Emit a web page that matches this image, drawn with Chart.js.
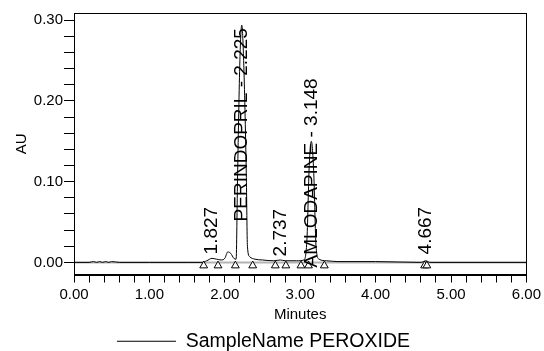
<!DOCTYPE html>
<html>
<head>
<meta charset="utf-8">
<script src="https://cdn.jsdelivr.net/npm/chart.js@4/dist/chart.umd.min.js"></script>
<style>
  html, body { margin: 0; padding: 0; background: #fff; }
  #wrap { width: 544px; height: 351px; }
</style>
</head>
<body>
<div id="wrap"><canvas id="chromChart"></canvas></div>
<script>
// chromatogram trace (minutes, AU)
var retentionTimes = [0.00, 0.20, 0.26, 0.30, 0.34, 0.38, 0.42, 0.46, 0.50, 0.60, 1.00, 1.50, 1.70, 1.76, 1.83, 1.89, 1.95, 2.00, 2.04, 2.08, 2.12, 2.15, 2.17, 2.20, 2.225, 2.25, 2.285, 2.30, 2.33, 2.40, 2.50, 2.65, 2.737, 2.80, 2.95, 3.05, 3.09, 3.12, 3.148, 3.18, 3.21, 3.25, 3.35, 3.50, 4.00, 4.60, 4.667, 4.72, 5.00, 6.00];
var absorbance = [0.000, 0.000, 0.001, 0.000, 0.001, 0.000, 0.001, 0.000, 0.001, 0.000, 0.000, 0.000, 0.000, 0.002, 0.005, 0.004, 0.003, 0.005, 0.013, 0.011, 0.005, 0.004, 0.110, 0.250, 0.294, 0.250, 0.110, 0.020, 0.007, 0.004, 0.003, 0.002, 0.003, 0.002, 0.002, 0.003, 0.030, 0.120, 0.150, 0.110, 0.020, 0.004, 0.002, 0.001, 0.001, 0.000, 0.002, 0.000, 0.000, 0.000];

// integration marks (peak start / end triangles)
var markerTimes = [1.72, 1.91, 2.14, 2.37, 2.67, 2.81, 3.01, 3.11, 3.32, 4.65, 4.68];

// labelled peaks
var peakTimes = [1.827, 2.225, 2.737, 3.148, 4.667];
var peakNames = ['', 'PERINDOPRIL', '', 'AMLODAPINE', ''];

// axis ticks
var xMajorTicks = [0, 1, 2, 3, 4, 5, 6];
var xTickLabels = ['0.00', '1.00', '2.00', '3.00', '4.00', '5.00', '6.00'];
var yMajorTicks = [0, 0.1, 0.2, 0.3];
var yTickLabels = ['0.00', '0.10', '0.20', '0.30'];

var sampleName = 'SampleName PEROXIDE';

var FONT = "'Liberation Sans', Arial, sans-serif";
var MARK_LEVEL = -0.004; // triangles hang just under the baseline

var tracePoints = retentionTimes.map(function (t, i) { return { x: t, y: absorbance[i] }; });
var baselinePoints = [
    { x: retentionTimes[0], y: 0 },
    { x: retentionTimes[retentionTimes.length - 1], y: 0 }
];
var markerPoints = markerTimes.map(function (t) { return { x: t, y: MARK_LEVEL }; });

function minorTicks(majors, parts) {
    var out = [];
    for (var i = 0; i < majors.length; i++) {
        out.push({ value: majors[i] });
        if (i < majors.length - 1) {
            var step = (majors[i + 1] - majors[i]) / parts;
            for (var k = 1; k < parts; k++) out.push({ value: majors[i] + step * k });
        }
    }
    return out;
}

function majorLabel(value, majors, labels) {
    for (var i = 0; i < majors.length; i++) {
        if (Math.abs(value - majors[i]) < 1e-6) return labels[i];
    }
    return '';
}

// frame + vertical peak labels
var peakLabelPlugin = {
    id: 'peakLabels',
    afterDatasetsDraw: function (chart) {
        var ctx = chart.ctx;
        var area = chart.chartArea;
        var xs = chart.scales.x, ys = chart.scales.y;
        ctx.save();
        ctx.strokeStyle = '#000';
        ctx.lineWidth = 1;
        ctx.strokeRect(Math.round(area.left) + 0.5, Math.round(area.top) + 0.5,
            Math.round(area.right - area.left), Math.round(area.bottom - area.top));

        var lift = [8, 41, 6, -5, 8];
        var zeroY = ys.getPixelForValue(0);
        ctx.font = '19px ' + FONT;
        ctx.fillStyle = '#000';
        ctx.textAlign = 'left';
        ctx.textBaseline = 'middle';
        peakTimes.forEach(function (t, i) {
            var txt = (peakNames[i] ? peakNames[i] + ' - ' : '') + t.toFixed(3);
            ctx.save();
            ctx.translate(xs.getPixelForValue(t), zeroY - lift[i]);
            ctx.rotate(-Math.PI / 2);
            ctx.fillText(txt, 0, 0);
            ctx.restore();
        });
        ctx.restore();
    }
};

var ctx = document.getElementById('chromChart').getContext('2d');
var chromChart = new Chart(ctx, {
    type: 'line',
    data: {
        datasets: [
            {
                label: sampleName,
                data: tracePoints,
                borderColor: '#000',
                borderWidth: 1,
                pointRadius: 0,
                cubicInterpolationMode: 'monotone',
                order: 2
            },
            {
                label: 'baseline',
                data: baselinePoints,
                borderColor: '#b4b4b4',
                borderWidth: 2,
                pointRadius: 0,
                order: 3
            },
            {
                label: 'marks',
                data: markerPoints,
                showLine: false,
                pointStyle: 'triangle',
                pointRadius: 4.5,
                pointBackgroundColor: '#fff',
                pointBorderColor: '#000',
                pointBorderWidth: 1,
                order: 1
            }
        ]
    },
    plugins: [peakLabelPlugin],
    options: {
        responsive: true,
        maintainAspectRatio: false,
        animation: false,
        layout: { padding: { top: 13, right: 17, left: 0, bottom: -10 } },
        scales: {
            x: {
                type: 'linear',
                min: 0,
                max: 6,
                afterBuildTicks: function (scale) { scale.ticks = minorTicks(xMajorTicks, 5); },
                afterFit: function (scale) { scale.height = 57; },
                ticks: {
                    autoSkip: false,
                    maxRotation: 0,
                    padding: 3,
                    color: '#000',
                    font: { family: FONT, size: 15 },
                    callback: function (v) { return majorLabel(v, xMajorTicks, xTickLabels); }
                },
                grid: { drawOnChartArea: false, drawTicks: true, tickLength: 8, color: '#000' },
                border: { color: '#000', width: 1 },
                title: {
                    display: true,
                    text: 'Minutes',
                    color: '#000',
                    font: { family: FONT, size: 15 },
                    padding: { top: 0, bottom: 8 }
                }
            },
            y: {
                min: -0.015,
                max: 0.309,
                afterBuildTicks: function (scale) { scale.ticks = minorTicks(yMajorTicks, 5); },
                afterFit: function (scale) { scale.width = 74; },
                ticks: {
                    autoSkip: false,
                    padding: 1,
                    color: '#000',
                    font: { family: FONT, size: 15 },
                    callback: function (v) { return majorLabel(v, yMajorTicks, yTickLabels); }
                },
                grid: { drawOnChartArea: false, drawTicks: true, tickLength: 10, color: '#000' },
                border: { color: '#000', width: 1 },
                title: {
                    display: true,
                    text: 'AU',
                    color: '#000',
                    font: { family: FONT, size: 15 },
                    padding: { top: 13, bottom: 0 }
                }
            }
        },
        plugins: {
            tooltip: { enabled: false },
            legend: {
                display: true,
                position: 'bottom',
                labels: {
                    padding: 0,
                    usePointStyle: true,
                    pointStyleWidth: 59,
                    color: '#000',
                    font: { family: FONT, size: 19.5 },
                    generateLabels: function () {
                        return [{
                            text: sampleName,
                            pointStyle: 'line',
                            strokeStyle: '#000',
                            fillStyle: '#000',
                            lineWidth: 1,
                            hidden: false,
                            datasetIndex: 0
                        }];
                    }
                }
            }
        }
    }
});
</script>
</body>
</html>
